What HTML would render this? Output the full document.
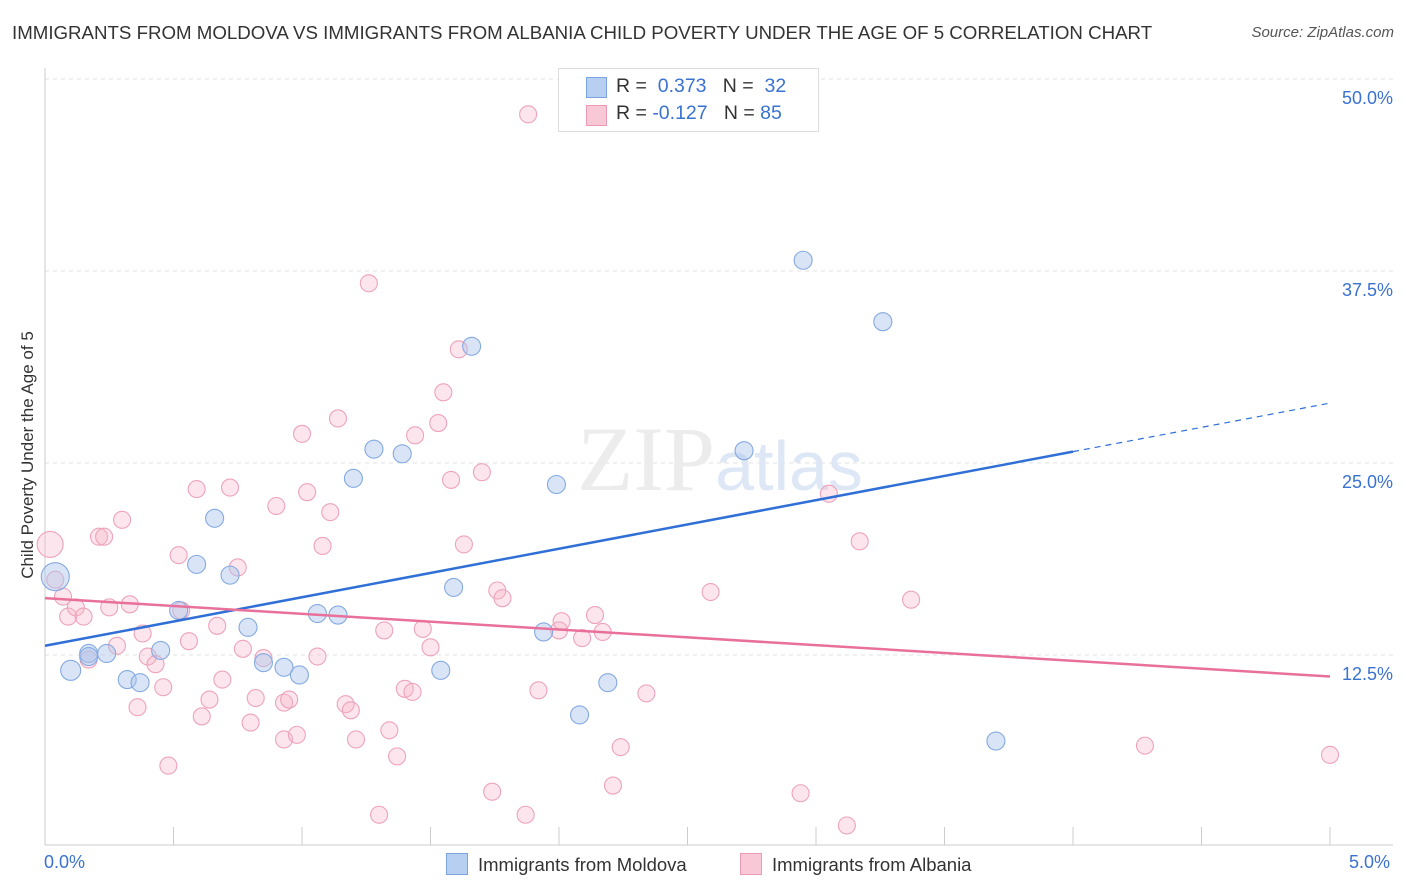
<!DOCTYPE html>
<html><head><meta charset="utf-8">
<style>
body{margin:0;background:#fff;font-family:"Liberation Sans",sans-serif;}
#wrap{position:relative;width:1406px;height:892px;overflow:hidden;}
.t{position:absolute;white-space:nowrap;}
</style></head>
<body>
<div id="wrap">
<div class="t" style="left:12px;top:22px;font-size:18.7px;color:#333;">IMMIGRANTS FROM MOLDOVA VS IMMIGRANTS FROM ALBANIA CHILD POVERTY UNDER THE AGE OF 5 CORRELATION CHART</div>
<div class="t" style="right:12px;top:24px;font-size:15px;color:#555;font-style:italic;">Source: ZipAtlas.com</div>
<svg id="svg" width="1406" height="892" style="position:absolute;left:0;top:0"></svg>
</div>
<script>
const blueX=[0.04,0.10,0.17,0.24,0.32,0.37,0.45,0.52,0.59,0.66,0.72,0.79,0.85,0.93,0.99,1.06,1.14,1.20,1.28,1.39,1.54,1.59,1.66,1.94,1.99,2.08,2.19,2.72,2.95,3.26,3.70,0.17];
const blueY=[17.6,11.5,12.6,12.6,10.9,10.7,12.8,15.4,18.4,21.4,17.7,14.3,12.0,11.7,11.2,15.2,15.1,24.0,25.9,25.6,11.5,16.9,32.6,14.0,23.6,8.6,10.7,25.8,38.2,34.2,6.9,12.4];
const blueR=[14,10,9,9,9,9,9,9,9,9,9,9,9,9,9,9,9,9,9,9,9,9,9,9,9,9,9,9,9,9,9,9];
const pinkX=[0.02,0.04,0.07,0.09,0.12,0.15,0.17,0.21,0.23,0.25,0.28,0.30,0.33,0.36,0.38,0.40,0.43,0.46,0.48,0.52,0.53,0.56,0.59,0.61,0.64,0.67,0.69,0.72,0.75,0.77,0.80,0.82,0.85,0.93,0.90,0.93,0.95,0.98,1.00,1.02,1.06,1.08,1.11,1.14,1.17,1.19,1.21,1.26,1.30,1.32,1.34,1.37,1.40,1.43,1.44,1.47,1.50,1.53,1.55,1.58,1.61,1.63,1.70,1.74,1.76,1.78,1.87,1.88,1.92,2.00,2.01,2.09,2.14,2.17,2.21,2.24,2.34,2.59,2.94,3.05,3.12,3.17,3.37,4.28,5.00];
const pinkY=[19.7,17.4,16.3,15.0,15.6,15.0,12.2,20.2,20.2,15.6,13.1,21.3,15.8,9.1,13.9,12.4,11.9,10.4,5.3,19.0,15.4,13.4,23.3,8.5,9.6,14.4,10.9,23.4,18.2,12.9,8.1,9.7,12.3,7.0,22.2,9.4,9.6,7.3,26.9,23.1,12.4,19.6,21.8,27.9,9.3,8.9,7.0,36.7,2.1,14.1,7.6,5.9,10.3,10.1,26.8,14.2,13.0,27.6,29.6,23.9,32.4,19.7,24.4,3.6,16.7,16.2,2.1,47.7,10.2,14.1,14.7,13.6,15.1,14.0,4.0,6.5,10.0,16.6,3.5,23.0,1.4,19.9,16.1,6.6,6.0];
const trendBlue=[13.1,28.9]; // at x=0 and x=5
const trendBlueSolidEnd=4.0;
const trendPink=[16.2,11.1];
const yTicks=[12.5,25.0,37.5,50.0];
const yTickLabels=["12.5%","25.0%","37.5%","50.0%"];
const xTicks=[0,0.5,1,1.5,2,2.5,3,3.5,4,4.5,5];

const NS="http://www.w3.org/2000/svg";
const svg=document.getElementById('svg');
const X0=45,X1=1330,YB=847,YT=79;
const sx=v=>X0+(X1-X0)*v/5;
const sy=v=>YB-(YB-YT)*v/50;
function mk(tag,at,parent){const e=document.createElementNS(NS,tag);for(const k in at)e.setAttribute(k,at[k]);(parent||svg).appendChild(e);return e;}

yTicks.forEach((v,i)=>{
  const g=mk('line',{x1:X0,x2:1393,y1:sy(v),y2:sy(v),stroke:'#e2e2e2','stroke-dasharray':'4 4'});
  
  
  const t=mk('text',{x:1393,y:sy(v)+25,'text-anchor':'end','font-size':18,fill:'#3a72d0','font-family':'Liberation Sans'});
  t.textContent=yTickLabels[i];
  
  
});
const ax=mk('line',{x1:X0,x2:X0,y1:68,y2:845,stroke:'#ccc'});


const axb=mk('line',{x1:X0,x2:1393,y1:845,y2:845,stroke:'#ccc'});


xTicks.forEach(v=>{
  const l=mk('line',{x1:sx(v),x2:sx(v),y1:827,y2:845,stroke:'#ccc'});
  
  
});
const wm=mk('text',{x:720,y:490,'text-anchor':'middle','font-size':92,fill:'#ececec','font-family':'Liberation Serif'});
wm.innerHTML='ZIP<tspan fill="#dde7f5" font-family="Liberation Sans" font-size="70">atlas</tspan>';



pinkX.forEach((x,i)=>{
  const c=mk('circle',{cx:sx(x),cy:sy(pinkY[i]),r:i==0?13:8.5,fill:'rgba(245,180,200,0.35)',stroke:'#eda3bb','stroke-width':1.1});
  
  
});
blueX.forEach((x,i)=>{
  const c=mk('circle',{cx:sx(x),cy:sy(blueY[i]),r:blueR[i],fill:'rgba(170,198,238,0.45)',stroke:'#84a9e0','stroke-width':1.1});
  
  
});
const by=x=>trendBlue[0]+(trendBlue[1]-trendBlue[0])*x/5;
const tb=mk('line',{x1:sx(0),y1:sy(by(0)),x2:sx(trendBlueSolidEnd),y2:sy(by(trendBlueSolidEnd)),stroke:'#2f6fd6','stroke-width':2.5});


const tbd=mk('line',{x1:sx(trendBlueSolidEnd),y1:sy(by(trendBlueSolidEnd)),x2:sx(5),y2:sy(by(5)),stroke:'#2f6fd6','stroke-width':1.2,'stroke-dasharray':'6 5'});


const tp=mk('line',{x1:sx(0),y1:sy(trendPink[0]),x2:sx(5),y2:sy(trendPink[1]),stroke:'#e8709a','stroke-width':2.5});


</script>
<div class="t" style="left:-122px;top:445px;width:300px;text-align:center;transform:rotate(-90deg);font-size:17px;color:#333;">Child Poverty Under the Age of 5</div>
<div class="t" style="left:44px;top:852px;font-size:18px;color:#3a72d0;">0.0%</div>
<div class="t" style="left:1349px;top:852px;font-size:18px;color:#3a72d0;">5.0%</div>
<div style="position:absolute;left:558px;top:68px;width:259px;height:62px;border:1px solid #ddd;background:#fff;font-size:19.5px;color:#333;">
 <div style="position:absolute;left:27px;top:8px;width:19px;height:19px;background:#b7d0f2;border:1px solid #7ba3df;"></div>
 <div class="t" style="left:57px;top:6px;">R = &nbsp;<span style="color:#3a72d0">0.373</span>&nbsp;&nbsp;&nbsp;N = &nbsp;<span style="color:#3a72d0">32</span></div>
 <div style="position:absolute;left:27px;top:36px;width:19px;height:19px;background:#f8c8d6;border:1px solid #eb9ab4;"></div>
 <div class="t" style="left:57px;top:33px;">R = <span style="color:#3a72d0">-0.127</span>&nbsp;&nbsp;&nbsp;N = <span style="color:#3a72d0">85</span></div>
</div>
<div style="position:absolute;left:446px;top:853px;font-size:18.5px;color:#333;">
 <span style="display:inline-block;width:20px;height:20px;background:#b7d0f2;border:1px solid #7ba3df;vertical-align:-4px;margin-right:10px;"></span>Immigrants from Moldova</div>
<div style="position:absolute;left:740px;top:853px;font-size:18.5px;color:#333;">
 <span style="display:inline-block;width:20px;height:20px;background:#f8c8d6;border:1px solid #eb9ab4;vertical-align:-4px;margin-right:10px;"></span>Immigrants from Albania</div>
</body></html>
